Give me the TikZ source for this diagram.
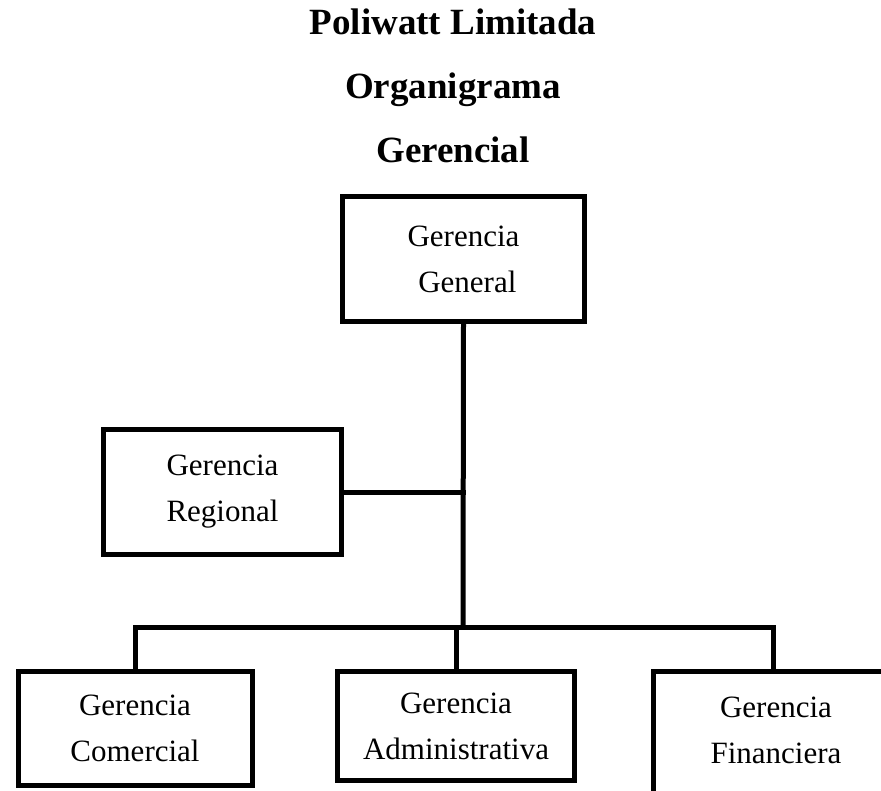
\documentclass[tikz,border=0pt]{standalone}
\usepackage{fontspec}
\setmainfont{Liberation Serif}
\begin{document}
\begin{tikzpicture}[x=1pt,y=-1pt,
  box/.style={draw=black, line width=5pt, fill=white, align=center, inner sep=0pt,
    font=\fontsize{31}{46}\selectfont},
  boxtext/.style={align=center, inner sep=0pt, font=\fontsize{31}{46}\selectfont},
  title/.style={anchor=base, font=\bfseries\fontsize{37}{37}\selectfont},
  link/.style={draw=black, line width=5pt, line cap=rect}]
\clip (0,0) rectangle (881,791);
\fill[white] (0,0) rectangle (881,791);
% titles
\node[title] (t1) at (453,35) {Poliwatt Limitada};
\node[title] (t2) at (453,99) {Organigrama};
\node[title] (t3) at (453,163) {Gerencial};
% junction coordinates
\coordinate (junc) at (463,627);
% boxes
\node[box, minimum width=242pt, minimum height=125pt] (gen) at (463.5,259) {Gerencia\\\ General};
\node[box, minimum width=238pt, minimum height=125pt] (reg) at (222.5,492) {Gerencia\\Regional};
\node[box, minimum width=234pt, minimum height=114pt] (com) at (135,728.5) {Gerencia\\Comercial};
\node[box, minimum width=237pt, minimum height=109pt] (adm) at (456,726) {Gerencia\\Administrativa};
\node[box, minimum width=240pt, minimum height=150pt] (fin) at (773,746.5) {};
\node[boxtext] (fintext) at (776,730) {Gerencia\\Financiera};
% connectors
\draw[link] (gen.south) -- (junc);
\draw[link] (reg.east) -- (reg.east -| junc);
\draw[link] (com.north |- junc) -- (fin.north |- junc);
\draw[link] (com.north) -- (com.north |- junc);
\draw[link] (adm.north) -- (adm.north |- junc);
\draw[link] (fin.north) -- (fin.north |- junc);
\end{tikzpicture}
\end{document}
